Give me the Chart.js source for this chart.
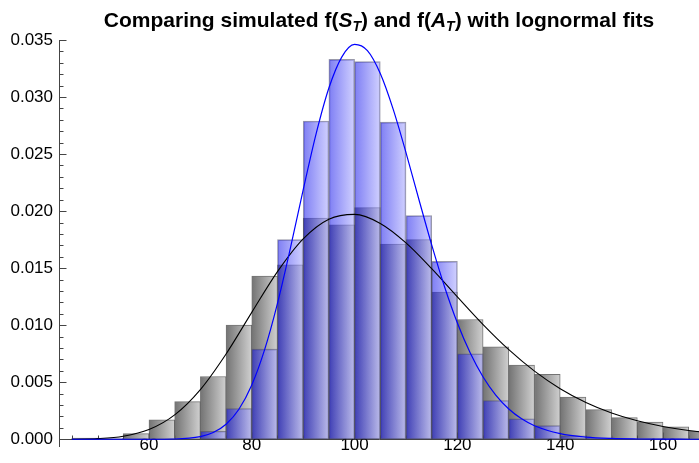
<!DOCTYPE html>
<html><head><meta charset="utf-8">
<script src="https://cdn.jsdelivr.net/npm/chart.js@4.4.1/dist/chart.umd.min.js"></script>
<style>html,body{margin:0;padding:0;background:#fff;}#wrap{width:699px;height:463px;}</style>
</head><body><div id="wrap"><canvas id="c" width="699" height="463"></canvas></div>
<script>
// ---- data ----
const binStarts = [45,50,55,60,65,70,75,80,85,90,95,100,105,110,115,120,125,130,135,140,145,150,155,160,165];
const stHist = [0.0001,0.0001,0.0005,0.0017,0.0033,0.0055,0.0100,0.0143,0.0153,0.0194,0.0188,0.0203,0.0171,0.0175,0.0129,0.0105,0.0081,0.0065,0.0057,0.0037,0.0026,0.0019,0.0015,0.0011,0.0007];
const atHist = [0,0,0,0,0,0.0007,0.0027,0.0079,0.0175,0.0279,0.0333,0.0331,0.0278,0.0196,0.0156,0.0075,0.0034,0.0018,0.0012,0.0003,0.0001,0,0,0,0];
const stFitX = [45,50,55,60,65,70,75,80,85,90,95,100,105,110,115,120,125,130,135,140,145,150,155,160,165,170];
const stFitY = [0.0000082,0.0000568,0.000259,0.000848,0.002136,0.004357,0.007478,0.011126,0.014700,0.017571,0.019296,0.019710,0.018922,0.017218,0.014958,0.012482,0.010056,0.007856,0.005974,0.004436,0.003226,0.002303,0.001617,0.001120,0.000766,0.000517];
const atFitX = [45,50,55,60,65,70,72.5,75,77.5,80,82.5,85,87.5,90,92.5,95,97.5,100,102.5,105,107.5,110,112.5,115,117.5,120,122.5,125,127.5,130,132.5,135,140,145,150,155,160,165,170];
const atFitY = [0,0,0,0.0000013,0.000024,0.000233,0.000587,0.001312,0.002628,0.004758,0.007855,0.011917,0.016727,0.021859,0.026745,0.030788,0.033503,0.034609,0.034063,0.032056,0.028936,0.025126,0.021043,0.017040,0.013370,0.010188,0.007553,0.005458,0.003850,0.002655,0.001793,0.001187,0.000493,0.000191,0.000070,0.000025,0.000008,0.000003,0.000001];
const xTickLabels = [60,80,100,120,140,160];
const yTickLabels = [0,0.005,0.010,0.015,0.020,0.025,0.030,0.035];
const titleParts = [
  {t:'Comparing simulated f(', s:'n'}, {t:'S', s:'i'}, {t:'T', s:'sub'},
  {t:') and f(', s:'n'}, {t:'A', s:'i'}, {t:'T', s:'sub'}, {t:') with lognormal fits', s:'n'}
];

const binWidth = binStarts[1] - binStarts[0];
const FONT = "'Liberation Sans', Arial, sans-serif";

function histData(vals){
  const out = [];
  binStarts.forEach((b,i)=>{ if (vals[i] > 0) out.push({x: b + binWidth/2, y: vals[i]}); });
  return out;
}
function gradFill(c0, c1){
  return (ctx) => {
    const chart = ctx.chart, xs = chart.scales.x;
    if (!xs || !ctx.raw || ctx.type !== 'data') return c0;
    const cx = ctx.raw.x;
    const a = xs.getPixelForValue(cx - binWidth/2), b = xs.getPixelForValue(cx + binWidth/2);
    if (!isFinite(a) || !isFinite(b)) return c0;
    const g = chart.ctx.createLinearGradient(a, 0, b, 0);
    g.addColorStop(0, c0); g.addColorStop(1, c1);
    return g;
  };
}

const axisTicks = {
  id: 'axisTicks',
  beforeDatasetsDraw(chart){
    const {ctx, scales:{x, y}} = chart;
    ctx.save();
    ctx.strokeStyle = '#444'; ctx.lineWidth = 1;
    const ax = Math.round(x.left) + 0.5;
    for (let k = 0; k <= 35; k++){
      const py = Math.round(y.getPixelForValue(k/1000)) + 0.5;
      const len = (k % 5 === 0) ? 7 : 4;
      ctx.beginPath(); ctx.moveTo(ax, py); ctx.lineTo(ax + len, py); ctx.stroke();
    }
    const ay = Math.round(y.getPixelForValue(0)) + 0.5;
    for (let v = 45; v <= 165; v += 5){
      const px = Math.round(x.getPixelForValue(v)) + 0.5;
      const len = (v % 20 === 0) ? 7 : 4;
      ctx.beginPath(); ctx.moveTo(px, ay); ctx.lineTo(px, ay - len); ctx.stroke();
    }
    ctx.restore();
  }
};

const richTitle = {
  id: 'richTitle',
  afterDraw(chart){
    const ctx = chart.ctx, ca = chart.chartArea;
    const fonts = {n: 'bold 21px ' + FONT, i: 'italic bold 21px ' + FONT, sub: 'italic bold 14px ' + FONT};
    const dys = {n: 0, i: 0, sub: 4};
    ctx.save();
    ctx.fillStyle = '#000'; ctx.textBaseline = 'alphabetic'; ctx.textAlign = 'left';
    let total = 0;
    titleParts.forEach(p => { ctx.font = fonts[p.s]; p.w = ctx.measureText(p.t).width; total += p.w; });
    let xx = (ca.left + ca.right)/2 - total/2;
    const base = 26.5;
    titleParts.forEach(p => { ctx.font = fonts[p.s]; ctx.fillText(p.t, xx, base + dys[p.s]); xx += p.w; });
    ctx.restore();
  }
};

new Chart(document.getElementById('c'), {
  type: 'bar',
  data: {
    datasets: [
      { type: 'line', label: 'A_T lognormal fit', data: atFitX.map((x,i)=>({x, y: atFitY[i]})),
        borderColor: '#0000ff', borderWidth: 1.2, pointRadius: 0, cubicInterpolationMode: 'monotone', fill: false },
      { type: 'line', label: 'S_T lognormal fit', data: stFitX.map((x,i)=>({x, y: stFitY[i]})),
        borderColor: '#000000', borderWidth: 1.1, pointRadius: 0, cubicInterpolationMode: 'monotone', fill: false },
      { type: 'bar', label: 'A_T', data: histData(atHist), grouped: false,
        barPercentage: 1, categoryPercentage: 1, borderSkipped: false,
        backgroundColor: gradFill('rgba(20,20,235,0.55)', 'rgba(170,170,255,0.55)'),
        borderColor: 'rgba(70,70,100,0.55)', borderWidth: 1 },
      { type: 'bar', label: 'S_T', data: histData(stHist), grouped: false,
        barPercentage: 1, categoryPercentage: 1, borderSkipped: false,
        backgroundColor: gradFill('rgb(115,115,115)', 'rgb(208,208,208)'),
        borderColor: 'rgba(70,70,70,0.75)', borderWidth: 1 }
    ]
  },
  options: {
    responsive: false, animation: false,
    layout: { padding: { top: 40, right: 0, bottom: 0, left: 0 } },
    plugins: { legend: { display: false }, title: { display: false }, tooltip: { enabled: false } },
    scales: {
      x: {
        type: 'linear', min: 42.5, max: 167, offset: false, position: { y: 0 },
        grid: { display: false, drawTicks: false, offset: false },
        border: { display: true, color: '#444', width: 1 },
        ticks: { font: { size: 17, family: FONT }, color: '#000', padding: -4, maxRotation: 0 },
        afterBuildTicks: s => { s.ticks = xTickLabels.map(v => ({value: v})); },
        afterFit: s => { s.height = 27; }
      },
      y: {
        type: 'linear', min: -0.00066, max: 0.035,
        grid: { display: false, drawTicks: false },
        border: { display: true, color: '#444', width: 1 },
        ticks: { font: { size: 17, family: FONT }, color: '#000', padding: 6, callback: v => Number(v).toFixed(3) },
        afterBuildTicks: s => { s.ticks = yTickLabels.map(v => ({value: v})); },
        afterFit: s => { s.width = 59; }
      }
    }
  },
  plugins: [axisTicks, richTitle]
});
</script></body></html>
